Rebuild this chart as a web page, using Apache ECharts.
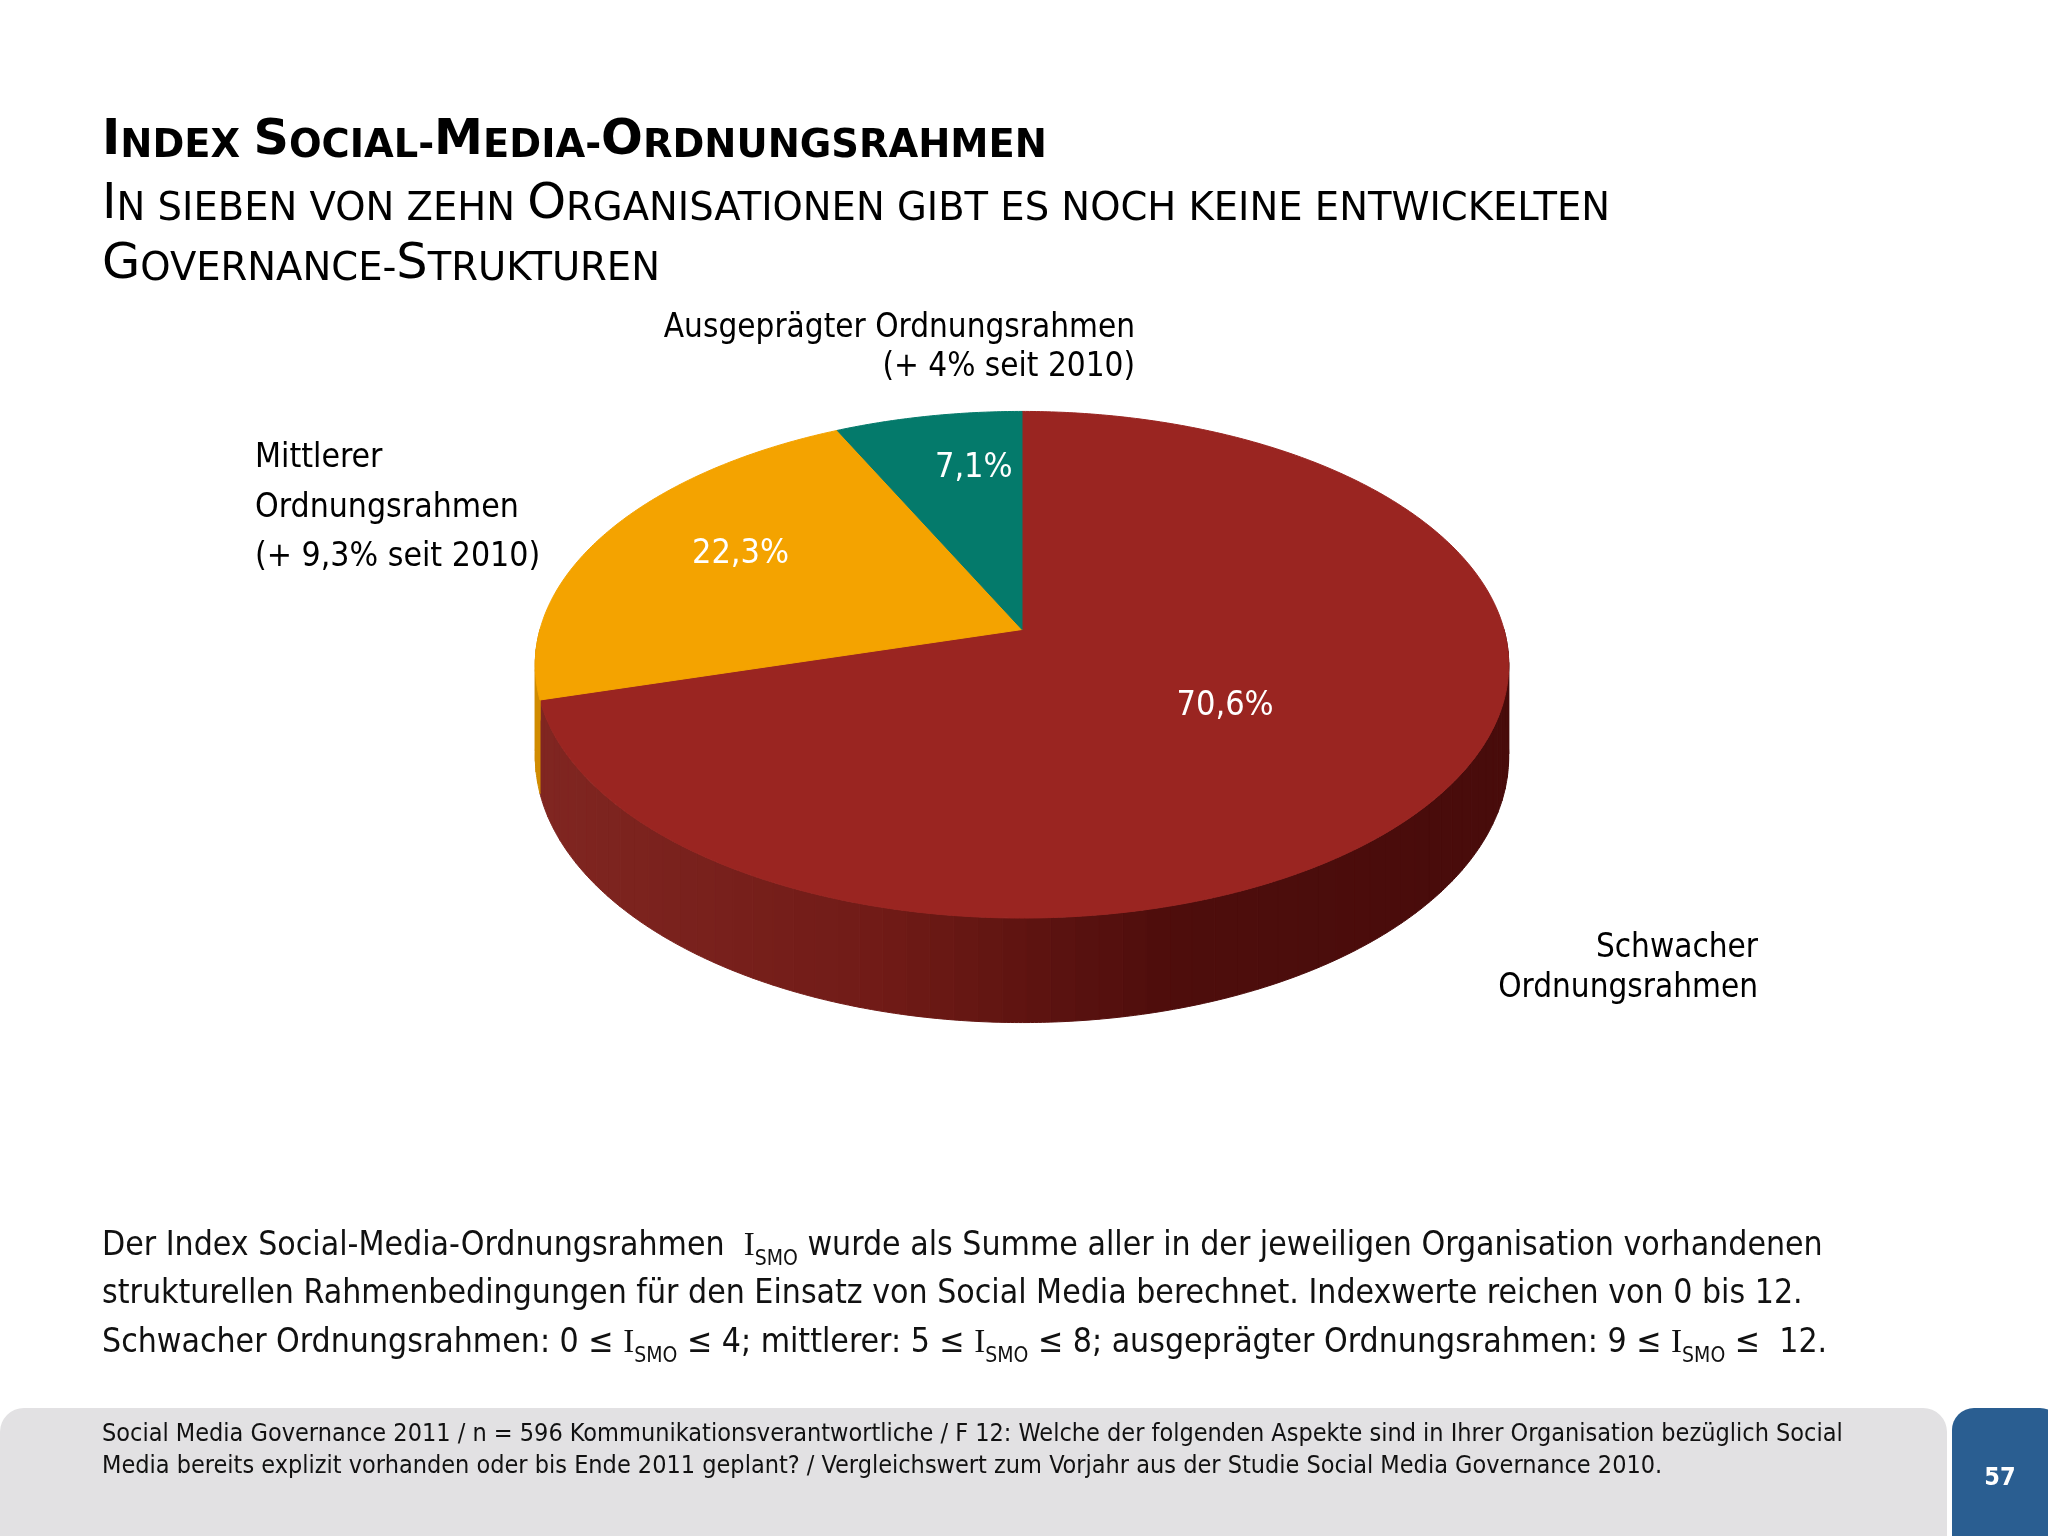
<!DOCTYPE html>
<html><head><meta charset="utf-8">
<script src="https://cdn.jsdelivr.net/npm/echarts@6/dist/echarts.min.js"></script>
<style>html,body{margin:0;padding:0;background:#fff}#c{width:2048px;height:1536px}</style>
</head><body><div id="c"></div>
<script>
// ---- data ----
const categories = ['Schwacher Ordnungsrahmen', 'Mittlerer Ordnungsrahmen', 'Ausgeprägter Ordnungsrahmen'];
const shares = [70.6, 22.3, 7.1];
const shareLabels = ['70,6%', '22,3%', '7,1%'];
const changeSince2010 = ['', '+ 9,3%', '+ 4%'];

// ---- styles ----
const sliceColors = ['#9a2521', '#f4a300', '#047a6b'];
const FONT = "'DejaVu Sans Condensed', 'DejaVu Sans', sans-serif";
const TFONT = "'DejaVu Sans', sans-serif";

// ---- 3D pie geometry ----
const CX = 1022, CY = 629.5, R = 482, RY = 248.4, H = 90, D = 7.19;
function proj(a, f, h) {
  const u = f * Math.sin(a), v = f * Math.cos(a);
  const s = D / (D + v);
  return [CX + R * u * s, CY - RY * v * s + h * H * s];
}
function lerp(a, b, t) { return a.map((x, k) => Math.round(x + (b[k] - x) * t)); }
const redStops = [[0, [128, 38, 33]], [0.35, [113, 27, 23]], [0.5, [95, 20, 17]], [0.65, [78, 13, 12]], [1, [72, 12, 11]]];
function wallColor(i, a) {
  if (i !== 0) return i === 1 ? '#d18c00' : '#03594e';
  const x = proj(a, 1, 0)[0];
  const t = Math.min(1, Math.max(0, (x - (CX - R)) / (2 * R)));
  for (let k = 1; k < redStops.length; k++) {
    if (t <= redStops[k][0]) {
      const tt = (t - redStops[k - 1][0]) / (redStops[k][0] - redStops[k - 1][0]);
      const c = lerp(redStops[k - 1][1], redStops[k][1], tt);
      return 'rgb(' + c.join(',') + ')';
    }
  }
  return 'rgb(72,12,11)';
}
// label placement (radius fraction, angle shift in degrees) per slice
const labelPlace = [[0.5, -1], [0.686, 3], [0.72, 4]];

const chart = echarts.init(document.getElementById('c'), null, { renderer: 'canvas' });

function sc(big, small) { return '{B|' + big + '}{s|' + small + '}'; }
const titleRich = {
  B: { fontSize: 49.2, fontWeight: 'bold', fontFamily: TFONT, lineHeight: 50, verticalAlign: 'bottom', fill: '#000' },
  s: { fontSize: 38.4, fontWeight: 'bold', fontFamily: TFONT, lineHeight: 42, verticalAlign: 'bottom', fill: '#000' }
};
const subRich = {
  B: { fontSize: 49.4, fontFamily: TFONT, lineHeight: 50, verticalAlign: 'bottom', fill: '#000' },
  s: { fontSize: 38.5, fontFamily: TFONT, lineHeight: 42, verticalAlign: 'bottom', fill: '#000' }
};
const bodyRich = {
  t: { fontSize: 33.5, fontFamily: FONT, lineHeight: 48.5, fill: '#111' },
  i: { fontSize: 33, fontFamily: "'Liberation Serif', serif", lineHeight: 48.5, fill: '#111' },
  s: { fontSize: 21, fontFamily: FONT, lineHeight: 23, verticalAlign: 'bottom', fill: '#111' }
};
const ISMO = '{i|I}{s|SMO}';

const total = shares.reduce((a, b) => a + b, 0);

chart.setOption({
  backgroundColor: '#ffffff',
  animation: false,
  graphic: [
    { type: 'text', x: 102, y: 115.7, style: { text: sc('I', 'NDEX ') + sc('S', 'OCIAL-') + sc('M', 'EDIA-') + sc('O', 'RDNUNGSRAHMEN'), rich: titleRich } },
    { type: 'text', x: 102, y: 179.7, style: { text: sc('I', 'N SIEBEN VON ZEHN ') + sc('O', 'RGANISATIONEN GIBT ES NOCH KEINE ENTWICKELTEN'), rich: subRich } },
    { type: 'text', x: 102, y: 239.7, style: { text: sc('G', 'OVERNANCE-') + sc('S', 'TRUKTUREN'), rich: subRich } },
    // outside category labels
    { type: 'text', x: 1135, y: 308.5, style: { text: categories[2] + '\n(' + changeSince2010[2] + ' seit 2010)', align: 'right', verticalAlign: 'top', fontSize: 33, lineHeight: 39, fontFamily: FONT, fill: '#000' } },
    { type: 'text', x: 255, y: 434, style: { text: categories[1].replace(' ', '\n') + '\n(' + changeSince2010[1] + ' seit 2010)', align: 'left', verticalAlign: 'top', fontSize: 33.5, lineHeight: 49.5, fontFamily: FONT, fill: '#000' } },
    { type: 'text', x: 1758, y: 928, style: { text: categories[0].replace(' ', '\n'), align: 'right', verticalAlign: 'top', fontSize: 33, lineHeight: 40, fontFamily: FONT, fill: '#000' } },
    // body text
    { type: 'text', x: 102, y: 1222, style: {
      text: '{t|Der Index Social-Media-Ordnungsrahmen  }' + ISMO + '{t| wurde als Summe aller in der jeweiligen Organisation vorhandenen}\n' +
            '{t|strukturellen Rahmenbedingungen für den Einsatz von Social Media berechnet. Indexwerte reichen von 0 bis 12.}\n' +
            '{t|Schwacher Ordnungsrahmen: 0 ≤ }' + ISMO + '{t| ≤ 4; mittlerer: 5 ≤ }' + ISMO + '{t| ≤ 8; ausgeprägter Ordnungsrahmen: 9 ≤ }' + ISMO + '{t| ≤  12.}',
      rich: bodyRich } },
    // footer
    { type: 'rect', shape: { x: 0, y: 1408, width: 1947, height: 140, r: [24, 24, 0, 0] }, style: { fill: '#e2e1e3' } },
    { type: 'rect', shape: { x: 1952, y: 1408, width: 110, height: 140, r: [22, 22, 0, 0] }, style: { fill: '#2a5e91' } },
    { type: 'text', x: 2000, y: 1478, style: { text: '57', align: 'center', verticalAlign: 'middle', fontSize: 25, fontWeight: 'bold', fontFamily: FONT, fill: '#fff' } },
    { type: 'text', x: 102, y: 1418.7, style: {
      text: 'Social Media Governance 2011 / n = 596 Kommunikationsverantwortliche / F 12: Welche der folgenden Aspekte sind in Ihrer Organisation bezüglich Social\nMedia bereits explizit vorhanden oder bis Ende 2011 geplant? / Vergleichswert zum Vorjahr aus der Studie Social Media Governance 2010.',
      fontSize: 25, lineHeight: 32, fontFamily: FONT, fill: '#111', verticalAlign: 'top' } }
  ],
  series: [{
    type: 'custom',
    coordinateSystem: 'none',
    silent: true,
    data: shares.map((v, i) => [v, i]),
    renderItem: function (params, api) {
      const i = params.dataIndex;
      let before = 0;
      for (let k = 0; k < i; k++) before += shares[k];
      const a0 = before / total * 2 * Math.PI;
      const a1 = (before + api.value(0)) / total * 2 * Math.PI;
      const children = [];
      // front wall
      const w0 = Math.max(a0, Math.PI / 2), w1 = Math.min(a1, 1.5 * Math.PI);
      if (w1 > w0) {
        const n = Math.max(1, Math.ceil((w1 - w0) / (2.5 * Math.PI / 180)));
        for (let k = 0; k < n; k++) {
          const b0 = w0 + (w1 - w0) * k / n, b1 = w0 + (w1 - w0) * (k + 1) / n;
          const pts = [];
          const sub = 6;
          for (let j = 0; j <= sub; j++) pts.push(proj(b0 + (b1 - b0) * j / sub, 1, 0));
          for (let j = sub; j >= 0; j--) pts.push(proj(b0 + (b1 - b0) * j / sub, 1, 1));
          const col = wallColor(i, (b0 + b1) / 2);
          children.push({ type: 'polygon', shape: { points: pts }, style: { fill: col, stroke: col, lineWidth: 1 } });
        }
      }
      // top face
      const pts = [proj(0, 0, 0)];
      const m = Math.max(4, Math.ceil((a1 - a0) / (Math.PI / 360)));
      for (let k = 0; k <= m; k++) pts.push(proj(a0 + (a1 - a0) * k / m, 1, 0));
      children.push({ type: 'polygon', shape: { points: pts }, style: { fill: sliceColors[i], stroke: sliceColors[i], lineWidth: 1 } });
      // value label
      const lp = labelPlace[i];
      const mid = (a0 + a1) / 2 + lp[1] * Math.PI / 180;
      const p = proj(mid, lp[0], 0);
      children.push({ type: 'text', x: p[0], y: p[1], style: { text: shareLabels[i], align: 'center', verticalAlign: 'middle', fontSize: 34, fontFamily: FONT, fill: '#ffffff' } });
      return { type: 'group', children: children };
    }
  }]
});
</script>
</body></html>
